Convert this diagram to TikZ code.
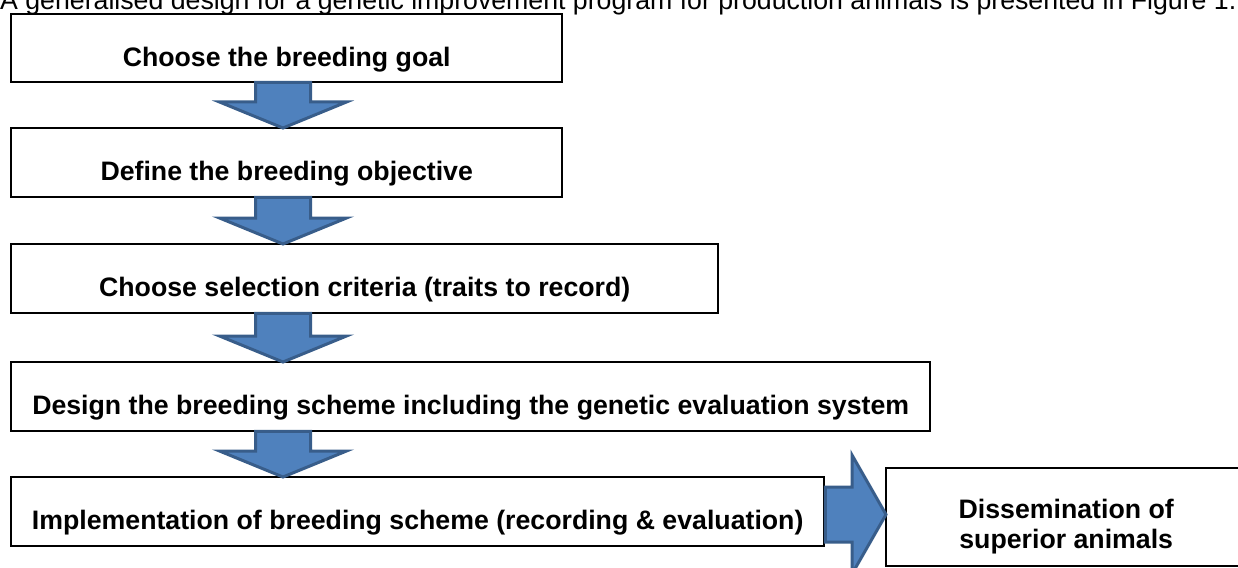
\documentclass[tikz,border=0pt]{standalone}
\usepackage{fontspec}
\setmainfont{Liberation Sans}
\usetikzlibrary{calc}
\definecolor{arrowfill}{HTML}{4F81BD}
\definecolor{arrowline}{HTML}{385D8A}
\begin{document}
\begin{tikzpicture}[x=1pt,y=-1pt,
	stepbox/.style={draw=black,line width=2.4pt,anchor=north west,inner sep=0pt,
		text height=36pt,text depth=0pt,font=\fontsize{26.7}{30}\selectfont\bfseries},
	blockarrow/.style={fill=arrowfill,draw=arrowline,line width=3pt,line join=miter}]
	\useasboundingbox (0,0) rectangle (1238,567);
	\clip (0,0) rectangle (1238,567);
	\node [anchor=base west,inner sep=0pt,font=\fontsize{26.7}{30}\selectfont] (intro) at (0,10)
		{A generalised design for a genetic improvement program for production animals is presented in Figure 1.};
	\node [stepbox,minimum width=551pt,minimum height=68pt] (goal) at (10,13) {Choose the breeding goal};
	\node [stepbox,minimum width=551pt,minimum height=69pt] (objective) at (10,127) {Define the breeding objective};
	\node [stepbox,minimum width=707pt,minimum height=69pt] (criteria) at (10,243) {Choose selection criteria (traits to record)};
	\node [stepbox,minimum width=919pt,minimum height=69pt] (scheme) at (10,361) {Design the breeding scheme including the genetic evaluation system};
	\node [stepbox,minimum width=813pt,minimum height=69pt] (implement) at (10,476) {Implementation of breeding scheme (recording \& evaluation)};
	\node [stepbox,minimum width=360pt,minimum height=98pt,align=center,text height=63pt,text depth=0pt] (dissem) at (885,467)
		{Dissemination of\\superior animals};
	% down arrows
	\foreach \a/\b in {goal/objective,objective/criteria,criteria/scheme,scheme/implement}
		\draw [blockarrow] let \p1=(\a.south), \p2=(\b.north) in
			(255.5pt,\y1+1pt) -- (310.5pt,\y1+1pt) -- (310.5pt,\y2+25pt) -- (346.5pt,\y2+25pt)
			-- (283pt,\y2-1pt) -- (219.5pt,\y2+25pt) -- (255.5pt,\y2+25pt) -- cycle;
	% arrow to the right
	\draw [blockarrow] let \p1=(implement.east), \p2=(dissem.west) in
		(\x1,-487pt) -- (\x2-33pt,-487pt) -- (\x2-33pt,-455pt) -- (\x2+1pt,-514.5pt)
		-- (\x2-33pt,-574pt) -- (\x2-33pt,-542pt) -- (\x1,-542pt) -- cycle;
\end{tikzpicture}
\end{document}
